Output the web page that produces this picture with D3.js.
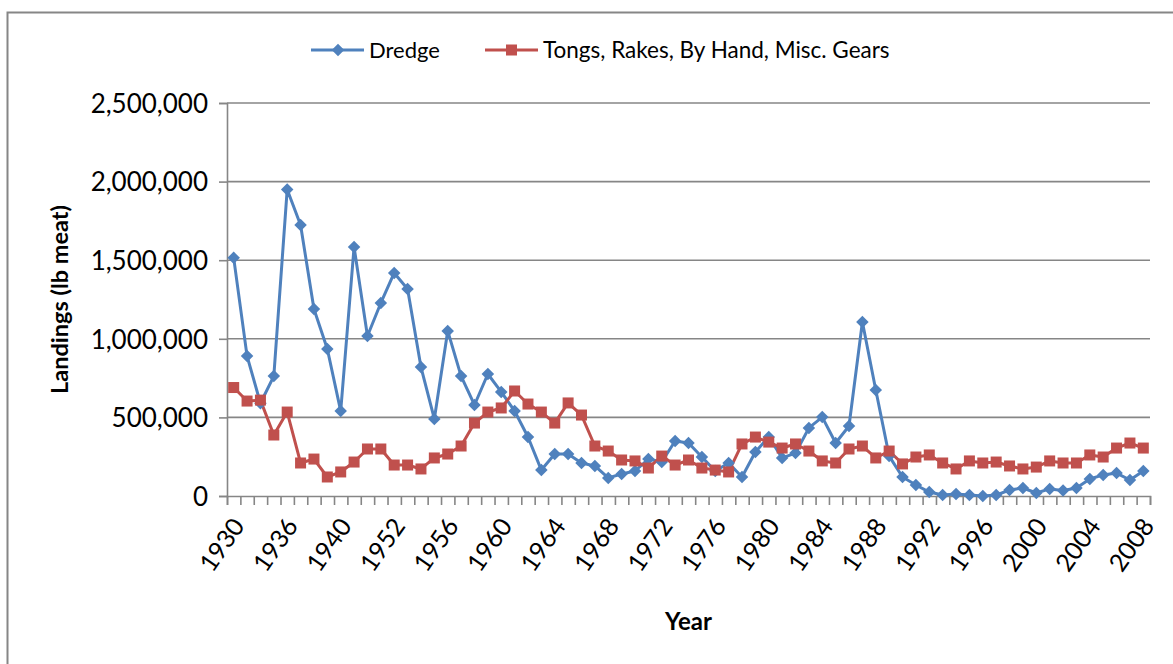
<!DOCTYPE html>
<html>
<head>
<meta charset="utf-8">
<script src="https://cdn.jsdelivr.net/npm/d3@7"></script>
<style>
  body { margin: 0; background: #fff; }
  svg { display: block; font-family: Lato, "Open Sans", sans-serif; }
</style>
</head>
<body>
<svg id="chart" width="1173" height="664"></svg>
<script>
// categories as they appear on the category axis (only every 4th one is labelled)
const years = ["1930","1931","1932","1934","1936","1937","1938","1939","1940","1945",
  "1950","1951","1952","1953","1954","1955","1956","1957","1958","1959",
  "1960","1961","1962","1963","1964","1965","1966","1967","1968","1969",
  "1970","1971","1972","1973","1974","1975","1976","1977","1978","1979",
  "1980","1981","1982","1983","1984","1985","1986","1987","1988","1989",
  "1990","1991","1992","1993","1994","1995","1996","1997","1998","1999",
  "2000","2001","2002","2003","2004","2005","2006","2007","2008"];

const dredge = [1515000, 890000, 590000, 763000, 1950000, 1724000, 1190000, 935000, 540000, 1584000,
  1018000, 1228000, 1419000, 1317000, 820000, 490000, 1050000, 763000, 579000, 776000,
  662000, 541000, 375000, 165000, 267000, 267000, 210000, 191000, 115000, 140000,
  159000, 235000, 216000, 350000, 337000, 248000, 159000, 210000, 121000, 280000,
  375000, 242000, 273000, 433000, 502000, 337000, 445000, 1107000, 674000, 254000,
  121000, 70000, 25000, 6000, 13000, 6000, 0, 6000, 38000, 51000,
  19000, 45000, 35000, 51000, 108000, 134000, 146000, 102000, 159000];

const tongs = [690000, 604000, 610000, 388000, 534000, 210000, 235000, 121000, 153000, 216000,
  299000, 299000, 197000, 197000, 172000, 242000, 267000, 318000, 464000, 534000,
  560000, 668000, 585000, 534000, 464000, 592000, 515000, 318000, 286000, 229000,
  223000, 178000, 254000, 197000, 229000, 178000, 165000, 153000, 331000, 375000,
  343000, 305000, 331000, 286000, 223000, 210000, 299000, 318000, 242000, 286000,
  204000, 248000, 261000, 210000, 172000, 223000, 210000, 216000, 191000, 172000,
  184000, 223000, 210000, 210000, 261000, 248000, 305000, 337000, 305000];

const seriesNames = ["Dredge", "Tongs, Rakes, By Hand, Misc. Gears"];
const yTicks = [0, 500000, 1000000, 1500000, 2000000, 2500000];

const colors = ["#4F81BD", "#C0504D"];
const gridColor = "#868686";

const margin = {top: 103, right: 23, bottom: 168, left: 227};
const width = 1173, height = 664;

const svg = d3.select("#chart");

// outer chart border
svg.append("rect")
   .attr("x", 7.5).attr("y", 12.5)
   .attr("width", 1200).attr("height", 700)
   .attr("fill", "none")
   .attr("stroke", gridColor)
   .attr("stroke-width", 2);

const xBand = d3.scaleBand()
    .domain(years)
    .range([margin.left, width - margin.right])
    .padding(0);

// boundaries of the categories, for the tick marks
const xEdge = d3.scaleLinear()
    .domain([0, years.length])
    .range([margin.left, width - margin.right]);

const yScale = d3.scaleLinear()
    .domain([0, 2500000])
    .range([height - margin.bottom, margin.top]);

const fmt = d3.format(",");

// horizontal gridlines
svg.append("g")
   .selectAll("line")
   .data(yTicks.filter(d => d > 0))
   .enter()
   .append("line")
   .attr("x1", margin.left)
   .attr("x2", width - margin.right)
   .attr("y1", d => yScale(d))
   .attr("y2", d => yScale(d))
   .attr("stroke", gridColor)
   .attr("stroke-width", 1.6);

// y axis
let yAxis = d3.axisLeft(yScale)
    .tickValues(yTicks)
    .tickSize(8)
    .tickFormat(d => fmt(d));

let gy = svg.append("g")
    .attr("transform", "translate(" + margin.left + ",0)")
    .call(yAxis);
gy.select(".domain").attr("stroke", gridColor).attr("stroke-width", 1.6);
gy.selectAll(".tick line").attr("stroke", gridColor).attr("stroke-width", 1.6);
gy.selectAll(".tick text")
    .attr("x", -19)
    .attr("dy", "0.36em")
    .style("font-family", "Lato, sans-serif")
    .style("font-size", "26px")
    .style("fill", "#000");

// x axis with ticks between categories
let xAxis = d3.axisBottom(xEdge)
    .tickValues(d3.range(0, years.length + 1))
    .tickSize(9)
    .tickFormat("");

let gx = svg.append("g")
    .attr("transform", "translate(0," + yScale(0) + ")")
    .call(xAxis);
gx.select(".domain").attr("stroke", gridColor).attr("stroke-width", 1.6);
gx.selectAll(".tick line").attr("stroke", gridColor).attr("stroke-width", 1.6);

svg.append("g")
   .selectAll("text")
   .data(years.filter((d, i) => i % 4 == 0))
   .enter()
   .append("text")
   .attr("transform", d => "translate(" + (xBand(d) + xBand.bandwidth() / 2 + 12) + "," + (yScale(0) + 30) + ") rotate(-55)")
   .attr("text-anchor", "end")
   .style("font-size", "25px")
   .style("fill", "#000")
   .text(d => d);

// series lines and markers
const cx = (d, i) => xBand(years[i]) + xBand.bandwidth() / 2;
const line = d3.line()
    .x((d, i) => cx(d, i))
    .y(d => yScale(d));

const allSeries = [dredge, tongs];

allSeries.forEach(function (vals, s) {
    svg.append("path")
       .datum(vals)
       .attr("d", line)
       .attr("fill", "none")
       .attr("stroke", colors[s])
       .attr("stroke-width", 3)
       .attr("stroke-linejoin", "round");
});

svg.append("g")
   .selectAll("path")
   .data(dredge)
   .enter()
   .append("path")
   .attr("d", d3.symbol().type(d3.symbolDiamond2).size(100))
   .attr("transform", (d, i) => "translate(" + cx(d, i) + "," + yScale(d) + ")")
   .attr("fill", colors[0]);

svg.append("g")
   .selectAll("rect")
   .data(tongs)
   .enter()
   .append("rect")
   .attr("x", (d, i) => cx(d, i) - 5.5)
   .attr("y", d => yScale(d) - 5.5)
   .attr("width", 11)
   .attr("height", 11)
   .attr("fill", colors[1]);

// legend
const legendX = [311, 485];
seriesNames.forEach(function (name, s) {
    let g = svg.append("g").attr("transform", "translate(" + legendX[s] + ",50)");
    g.append("line")
     .attr("x1", 0).attr("x2", 53)
     .attr("stroke", colors[s])
     .attr("stroke-width", 3);
    if (s == 0)
        g.append("path")
         .attr("d", d3.symbol().type(d3.symbolDiamond2).size(100))
         .attr("transform", "translate(27,0)")
         .attr("fill", colors[s]);
    else
        g.append("rect")
         .attr("x", 21).attr("y", -5.5).attr("width", 11).attr("height", 11)
         .attr("fill", colors[s]);
    g.append("text")
     .attr("x", 58)
     .attr("dy", "0.35em")
     .style("font-size", s == 0 ? "22px" : "22.5px")
     .style("fill", "#000")
     .text(name);
});

// axis titles
svg.append("text")
   .attr("transform", "translate(68," + ((margin.top + yScale(0)) / 2) + ") rotate(-90)")
   .attr("text-anchor", "middle")
   .style("font-size", "23.5px")
   .style("font-weight", "bold")
   .text("Landings (lb meat)");

svg.append("text")
   .attr("x", (margin.left + width - margin.right) / 2)
   .attr("y", 630)
   .attr("text-anchor", "middle")
   .style("font-size", "24px")
   .style("font-weight", "bold")
   .text("Year");
</script>
</body>
</html>
